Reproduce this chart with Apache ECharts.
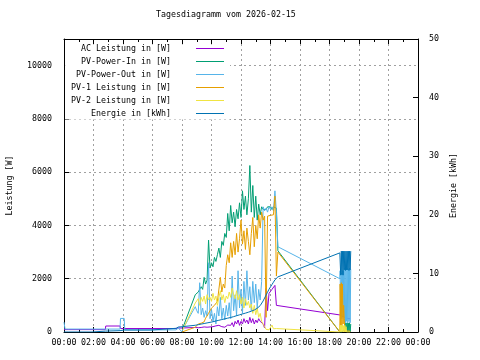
<!DOCTYPE html>
<html><head><meta charset="utf-8">
<script src="https://cdn.jsdelivr.net/npm/echarts@6/dist/echarts.min.js"></script>
<style>html,body{margin:0;padding:0;background:#fff}#c{width:480px;height:360px}</style>
</head><body><div id="c"></div><script>
const titleText = 'Tagesdiagramm vom 2026-02-15';
const seriesNames = ['AC Leistung in [W]', 'PV-Power-In in [W]', 'PV-Power-Out in [W]', 'PV-1 Leistung in [W]', 'PV-2 Leistung in [W]', 'Energie in [kWh]'];
const seriesColors = ['#9400d3', '#009e73', '#56b4e9', '#e69f00', '#f0e442', '#0072b2'];

// time of day in hours
const hours = [
  0.00, 0.07, 0.33, 1.90, 1.92, 2.80, 2.83, 3.80, 3.83, 4.08, 4.12, 5.90, 5.92, 7.60, 7.62, 7.75, 8.00,
  8.05, 8.90,
  9.0, 9.1, 9.2, 9.3, 9.4, 9.5, 9.6, 9.7, 9.8, 9.9,
  10.0, 10.1, 10.2, 10.3, 10.4, 10.5, 10.6, 10.7, 10.8, 10.9,
  11.0, 11.1, 11.2, 11.3, 11.4, 11.5, 11.6, 11.7, 11.8, 11.9,
  12.0, 12.1, 12.2, 12.3, 12.4, 12.5, 12.6, 12.7, 12.8, 12.9,
  13.0, 13.1, 13.2, 13.3, 13.4, 13.5, 13.6, 13.7, 13.8, 13.9,
  14.0, 14.1, 14.2, 14.3, 14.4, 14.5,
  18.70,
  18.72, 18.76, 18.80, 18.84, 18.88, 18.92, 18.96, 19.00, 19.04, 19.08, 19.12, 19.16, 19.20, 19.24, 19.28, 19.32, 19.36, 19.40, 19.44
];
const acPower = [
  90, 90, 90, 90, 90, 90, 225, 225, 130, 130, 130, 130, 130, 130, 150, 150, 150,
  170, 170,
  170, 160, 180, 170, 160, 190, 170, 180, 170, 190,
  180, 200, 190, 230, 260, 250, 230, 200, 190, 180,
  200, 260, 300, 250, 350, 200, 400, 300, 450, 250,
  400, 300, 500, 350, 450, 300, 550, 350, 500, 300,
  450, 350, 500, 400, 450, 300, 150, 1640, 800, 1450,
  1400, 1600, 1550, 1750, 1000, 1000,
  640,
  620, 600, 610, 600, 600, 590, 580, 560, 550, 540, 530, 520, 520, 510, 500, 500, 500, 500, 500
];
const pvPowerIn = [
  null, null, null, null, null, null, null, null, null, null, null, null, null, null, null, null, null,
  150, 1400,
  1350, 1500, 1450, 1700, 1600, 2050, 1800, 1950, 3450, 2400,
  2600, 2450, 2800, 2650, 2900, 3150, 2800, 3400, 3250, 3700,
  3550, 4450, 3800, 4750, 4100, 4500, 3950, 4600, 4250, 4850,
  4300, 5300, 4600, 5100, 4400, 5000, 6250, 4500, 5500, 4300,
  5100, 4200, 4800, 4400, 4700, 4600, 4650, 4600, 4700, 4650,
  4700, 4600, 4700, 4750, 4650, 3050,
  0,
  0, 0, 0, 0, 0, 0, 0, 100, 350, 0, 340, 0, 350, 0, 330, 0, 350, 0, 300
];
const pvPowerOut = [
  370, 110, 110, 110, 110, 110, 110, 110, 510, 510, 80, 80, 80, 80, 150, 150, 0,
  100, 950,
  800, 700, 1850, 650, 900, 550, 800, 600, 2600, 500,
  850, 400, 700, 300, 950, 600, 1300, 500, 900, 450,
  1000, 600, 1100, 500, 2100, 800, 1400, 600, 2300, 900,
  1600, 700, 1900, 1000, 2300, 1200, 1700, 800, 1900, 1100,
  1800, 900, 1600, 1200, 1900, 4700, 4550, 4650, 4500, 4700,
  4600, 4700, 4550, 5300, 4500, 3200,
  2000,
  2300, 600, 2200, 500, 2300, 600, 2300, 350, 2400, 350, 2350, 400, 2400, 350, 2350, 400, 2400, 350, 2350
];
const pv1Power = [
  null, null, null, null, null, null, null, null, null, null, null, null, null, null, null, null, 0,
  20, 180,
  250, 300, 280, 330, 350, 380, 520, 600, 700, 650,
  900, 950, 1000, 1050, 1150, 1200, 2050, 1500, 1800, 1650,
  2500, 2900, 2600, 3350, 2800, 3400, 2900, 3700, 3000, 3500,
  4200, 3300, 3800, 3100, 3900, 3400, 2900, 3700, 4300, 3200,
  4000, 3500, 4400, 3900, 4500, 4200, 4350, 550, 4350, 4400,
  4380, 4450, 4400, 5100, 2100, 3000,
  0,
  1800, 250, 1850, 200, 1800, 300, 1000, 500, 60, 0, 50, 0, 40, 0, 50, 0, 40, 0, 0
];
const pv2Power = [
  null, null, null, null, null, null, null, null, null, null, null, null, null, null, null, null, null,
  75, 1090,
  1100, 1250, 1000, 1300, 1150, 1350, 1050, 1400, 1200, 1300,
  1150, 1450, 1200, 1350, 1000, 1300, 1550, 1200, 1400, 1100,
  1350, 1250, 1500, 1300, 1650, 1400, 1250, 1550, 1200, 1400,
  1050, 1300, 900, 1250, 1000, 1150, 900, 1050, 700, 1000,
  650, 900, 550, 700, 400, 350, 200, 100, 75, 80,
  100, 260, 120, 130, 130, 140,
  0,
  250, 0, 260, 0, 250, 0, 240, 0, 250, 0, 200, 0, 0, 0, 0, 0, 0, 0, 0
];
const energyKWh = [
  0, 0, 0, 0, 0.15, 0.15, 0.23, 0.23, 0.34, 0.34, 0.34, 0.34, 0.63, 0.63, 0.80, 0.85, 0.90,
  0.92, 1.15,
  1.20, 1.25, 1.30, 1.35, 1.40, 1.45, 1.50, 1.55, 1.60, 1.65,
  1.70, 1.75, 1.82, 1.88, 1.95, 2.00, 2.05, 2.12, 2.18, 2.25,
  2.30, 2.36, 2.42, 2.48, 2.55, 2.62, 2.70, 2.78, 2.85, 2.93,
  3.00, 3.08, 3.15, 3.22, 3.30, 3.38, 3.45, 3.55, 3.65, 3.75,
  3.90, 4.05, 4.25, 4.50, 4.80, 5.30, 5.80, 6.30, 6.80, 7.30,
  7.70, 8.10, 8.50, 8.90, 9.20, 9.40,
  13.5,
  13.8, 9.7, 13.8, 9.8, 13.8, 9.7, 13.8, 10.6, 13.8, 10.5, 13.8, 10.6, 13.8, 10.6, 13.8, 10.5, 13.8, 10.6, 13.8
];
const seriesValues = [acPower, pvPowerIn, pvPowerOut, pv1Power, pv2Power, energyKWh];

const FONT = 'DejaVu Sans Mono';
const FS = 8.3;
const chart = echarts.init(document.getElementById('c'), null, {renderer: 'canvas'});
const pad2 = v => String(v).padStart(2, '0');
const gridLine = {show: true, lineStyle: {color: '#a0a0a0', type: [2, 3], width: 1}};
const blackLine = {show: true, onZero: false, lineStyle: {color: '#000', width: 1}};
const tick = {show: true, inside: true, length: 5, lineStyle: {color: '#000'}};
const txt = {fontFamily: FONT, fontSize: FS, color: '#000'};

chart.setOption({
  animation: false,
  backgroundColor: '#fff',
  textStyle: {fontFamily: FONT, fontSize: FS, color: '#000'},
  title: {text: titleText, left: 156, top: 11, padding: 0, textStyle: {fontFamily: FONT, fontSize: FS, fontWeight: 'normal', color: '#000'}},
  legend: {
    orient: 'vertical', align: 'right', right: 250, top: 44.5, padding: [0, 6, 2, 6],
    backgroundColor: '#fff',
    icon: 'rect', itemWidth: 28, itemHeight: 1, itemGap: 5,
    data: seriesNames,
    textStyle: {fontFamily: FONT, fontSize: FS, color: '#000', lineHeight: 8, padding: [0, 20, 0, 0]}
  },
  grid: {left: 64, right: 62, top: 39, bottom: 28, containLabel: false, outerBoundsMode: 'none'},
  xAxis: [
    {type: 'value', position: 'bottom', min: 0, max: 24, interval: 2,
     axisLine: blackLine, axisTick: tick,
     minorTick: {show: true, splitNumber: 2, length: 3, lineStyle: {color: '#000'}},
     splitLine: gridLine,
     axisLabel: Object.assign({margin: 7, formatter: v => pad2(v % 24) + ':00'}, txt)},
    {type: 'value', position: 'top', min: 0, max: 24, interval: 2,
     axisLine: blackLine, axisTick: tick,
     minorTick: {show: true, splitNumber: 2, length: 3, lineStyle: {color: '#000'}},
     splitLine: {show: false}, axisLabel: {show: false}}
  ],
  yAxis: [
    {type: 'value', position: 'left', min: 0, max: 11000, interval: 2000,
     name: 'Leistung [W]', nameLocation: 'middle', nameRotate: 90, nameGap: 50,
     nameTextStyle: txt,
     axisLine: blackLine, axisTick: tick,
     splitLine: gridLine,
     axisLabel: Object.assign({margin: 12, showMaxLabel: false, formatter: v => String(v)}, txt)},
    {type: 'value', position: 'right', min: 0, max: 50, interval: 10,
     name: 'Energie [kWh]', nameLocation: 'middle', nameRotate: 90, nameGap: 32,
     nameTextStyle: txt,
     axisLine: blackLine, axisTick: tick,
     splitLine: {show: false},
     axisLabel: Object.assign({margin: 11, formatter: v => String(v)}, txt)}
  ],
  series: seriesNames.map((name, k) => ({
    name: name, type: 'line', symbol: 'none', showSymbol: false,
    xAxisIndex: 0, yAxisIndex: k === 5 ? 1 : 0,
    color: seriesColors[k],
    lineStyle: {width: 1, color: seriesColors[k]},
    connectNulls: false,
    data: hours.map((h, i) => [h, seriesValues[k][i]])
  }))
});
</script></body></html>
